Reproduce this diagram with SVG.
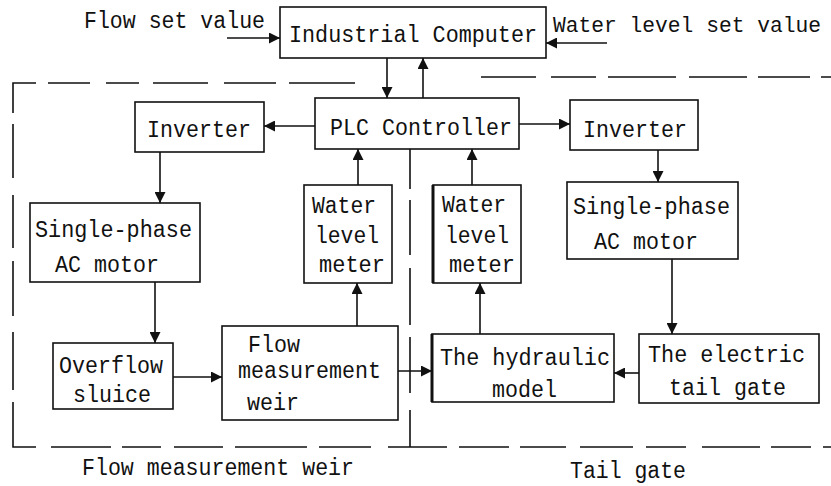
<svg xmlns="http://www.w3.org/2000/svg" width="831" height="486" viewBox="0 0 831 486">
<style>
.bg{fill:#ffffff}
.box{fill:#ffffff;stroke:#111;stroke-width:1.6}
.thick{stroke:#111;stroke-width:3}
.t{font-family:"Liberation Mono","DejaVu Sans Mono",monospace;font-size:23px;fill:#111}
.c{fill:none;stroke:#111;stroke-width:1.6}
.d{fill:none;stroke:#111;stroke-width:1.6}
</style>
<defs>
<marker id="ah" viewBox="0 0 10 10" refX="10" refY="5" markerWidth="11" markerHeight="11" markerUnits="userSpaceOnUse" orient="auto">
<path d="M0,0 L10,5 L0,10 z" fill="#111"/>
</marker>
</defs>
<rect class="bg" x="0" y="0" width="831" height="486"/>

<g id="regions">
<path class="d" d="M13,113 V83 H36 M48,83 H90 M106,83 H139 M153,83 H208 M224,83 H276 M289,83 H355"/>
<path class="d" d="M13,124 V178 M13,195 V248 M13,261 V316 M13,332 V390 M13,402 V447 H36 M51,447 H111 M122,447 H161 M174,447 H223 M235,447 H307 M319,447 H371 M388,447 H447 M459,447 H509 M520,447 H566 M580,447 H633 M646,447 H686 M702,447 H760 M771,447 H811 M823,447 H831"/>
<path class="d" d="M410,149 V189 M410,200 V255 M410,268 V325 M410,337 V393 M410,410 V447"/>
<path class="d" d="M481,77 H536 M551,77 H596 M608,77 H676 M689,77 H747 M758,77 H810 M821,77 H831"/>
<text class="t" x="82" y="475" textLength="272" lengthAdjust="spacingAndGlyphs">Flow measurement weir</text>
<text class="t" x="570" y="478" textLength="116" lengthAdjust="spacingAndGlyphs">Tail gate</text>
</g>

<g id="inputs">
<text class="t" x="84" y="28" textLength="181" lengthAdjust="spacingAndGlyphs">Flow set value</text>
<text class="t" x="553" y="32" style="font-size:21.5px" textLength="268" lengthAdjust="spacingAndGlyphs">Water level set value</text>
</g>

<g id="industrial-computer">
<rect class="box" x="280" y="7" width="266" height="51"/>
<text class="t" x="289" y="42" textLength="248" lengthAdjust="spacingAndGlyphs">Industrial Computer</text>
</g>

<g id="plc-controller">
<rect class="box" x="315" y="98" width="204" height="51"/>
<text class="t" x="330" y="135" textLength="182" lengthAdjust="spacingAndGlyphs">PLC Controller</text>
</g>

<g id="inverter-left">
<rect class="box" x="135" y="102" width="129" height="50"/>
<text class="t" x="147" y="137" textLength="104" lengthAdjust="spacingAndGlyphs">Inverter</text>
</g>

<g id="inverter-right">
<rect class="box" x="570" y="100" width="128" height="50"/>
<text class="t" x="583" y="137" textLength="104" lengthAdjust="spacingAndGlyphs">Inverter</text>
</g>

<g id="motor-left">
<rect class="box" x="30" y="203" width="170" height="79"/>
<text class="t" x="35" y="237" textLength="157" lengthAdjust="spacingAndGlyphs">Single-phase</text>
<text class="t" x="55" y="272" textLength="104" lengthAdjust="spacingAndGlyphs">AC motor</text>
</g>

<g id="meter-left">
<rect class="box" x="304" y="185" width="88" height="98"/>
<text class="t" x="312" y="213" textLength="64" lengthAdjust="spacingAndGlyphs">Water</text>
<text class="t" x="315" y="243" textLength="64" lengthAdjust="spacingAndGlyphs">level</text>
<text class="t" x="319" y="272" textLength="66" lengthAdjust="spacingAndGlyphs">meter</text>
</g>

<g id="meter-right">
<rect class="box" x="433" y="185" width="88" height="98"/>
<line class="thick" x1="433" y1="185" x2="433" y2="283"/>
<text class="t" x="442" y="212" textLength="64" lengthAdjust="spacingAndGlyphs">Water</text>
<text class="t" x="445" y="243" textLength="64" lengthAdjust="spacingAndGlyphs">level</text>
<text class="t" x="449" y="272" textLength="66" lengthAdjust="spacingAndGlyphs">meter</text>
</g>

<g id="motor-right">
<rect class="box" x="567" y="182" width="171" height="77"/>
<text class="t" x="573" y="214" textLength="157" lengthAdjust="spacingAndGlyphs">Single-phase</text>
<text class="t" x="594" y="249" textLength="104" lengthAdjust="spacingAndGlyphs">AC motor</text>
</g>

<g id="overflow-sluice">
<rect class="box" x="53" y="343" width="120" height="66"/>
<text class="t" x="59" y="373" textLength="104" lengthAdjust="spacingAndGlyphs">Overflow</text>
<text class="t" x="73" y="402" textLength="78" lengthAdjust="spacingAndGlyphs">sluice</text>
</g>

<g id="flow-weir">
<rect class="box" x="222" y="326" width="176" height="94"/>
<text class="t" x="248" y="352" textLength="52" lengthAdjust="spacingAndGlyphs">Flow</text>
<text class="t" x="238" y="378" textLength="143" lengthAdjust="spacingAndGlyphs">measurement</text>
<text class="t" x="247" y="410" textLength="52" lengthAdjust="spacingAndGlyphs">weir</text>
</g>

<g id="hydraulic-model">
<rect class="box" x="432" y="334" width="182" height="68"/>
<line class="thick" x1="432" y1="334" x2="432" y2="402"/>
<text class="t" x="440" y="365" textLength="170" lengthAdjust="spacingAndGlyphs">The hydraulic</text>
<text class="t" x="492" y="397" textLength="65" lengthAdjust="spacingAndGlyphs">model</text>
</g>

<g id="tail-gate">
<rect class="box" x="639" y="334" width="180" height="69"/>
<text class="t" x="648" y="362" textLength="157" lengthAdjust="spacingAndGlyphs">The electric</text>
<text class="t" x="669" y="395" textLength="117" lengthAdjust="spacingAndGlyphs">tail gate</text>
</g>

<g id="connectors">
<line class="c" x1="227" y1="38" x2="280" y2="38" marker-end="url(#ah)"/>
<line class="c" x1="607" y1="43" x2="546" y2="43" marker-end="url(#ah)"/>
<line class="c" x1="387" y1="58" x2="387" y2="98" marker-end="url(#ah)"/>
<line class="c" x1="423" y1="98" x2="423" y2="58" marker-end="url(#ah)"/>
<line class="c" x1="315" y1="126" x2="264" y2="126" marker-end="url(#ah)"/>
<line class="c" x1="519" y1="124" x2="570" y2="124" marker-end="url(#ah)"/>
<line class="c" x1="160" y1="152" x2="160" y2="203" marker-end="url(#ah)"/>
<line class="c" x1="658" y1="150" x2="658" y2="182" marker-end="url(#ah)"/>
<line class="c" x1="155" y1="282" x2="155" y2="343" marker-end="url(#ah)"/>
<line class="c" x1="173" y1="377" x2="222" y2="377" marker-end="url(#ah)"/>
<line class="c" x1="357" y1="326" x2="357" y2="283" marker-end="url(#ah)"/>
<line class="c" x1="358" y1="185" x2="358" y2="149" marker-end="url(#ah)"/>
<line class="c" x1="398" y1="371" x2="432" y2="371" marker-end="url(#ah)"/>
<line class="c" x1="480" y1="334" x2="480" y2="283" marker-end="url(#ah)"/>
<line class="c" x1="472" y1="185" x2="472" y2="149" marker-end="url(#ah)"/>
<line class="c" x1="672" y1="259" x2="672" y2="334" marker-end="url(#ah)"/>
<line class="c" x1="639" y1="373" x2="614" y2="373" marker-end="url(#ah)"/>
</g>
</svg>
